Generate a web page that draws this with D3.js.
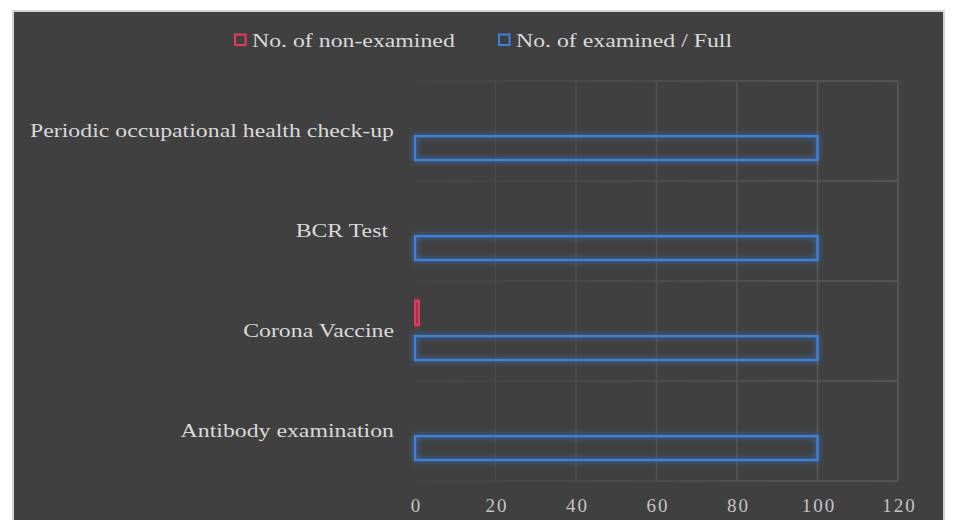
<!DOCTYPE html>
<html>
<head>
<meta charset="utf-8">
<script src="https://cdn.jsdelivr.net/npm/d3@7"></script>
<style>
  body { margin: 0; background: #fff; }
  svg text { white-space: pre; }
</style>
</head>
<body>
<svg id="chart" width="956" height="520"></svg>
<script>
// data
var categories = ["Periodic occupational health check-up", "BCR Test ", "Corona Vaccine", "Antibody examination"];
var seriesNames = ["No. of non-examined", "No. of examined / Full"];
var nonExamined = [0, 0, 1, 0];
var examined = [100, 100, 100, 100];
var xTicks = [0, 20, 40, 60, 80, 100, 120];
var seriesColors = ["#e8385c", "#3d82e0"];

var svg = d3.select("#chart");
var labelColor = "#d9d9d9";
var serif = "'Liberation Serif', 'Times New Roman', serif";
var stretch = "scale(1.22,1)";   // the source text is drawn a bit wide

// frame
svg.append("rect")
   .attr("x", 13).attr("y", 11)
   .attr("width", 931).attr("height", 520)
   .attr("fill", "#404040")
   .attr("stroke", "#d4d4d4")
   .attr("stroke-width", 2);

var defs = svg.append("defs");
var glow = defs.append("filter").attr("id", "glow")
               .attr("x", "-20%").attr("y", "-60%").attr("width", "140%").attr("height", "220%");
glow.append("feGaussianBlur").attr("in", "SourceGraphic").attr("stdDeviation", 3).attr("result", "blur");
var merge = glow.append("feMerge");
merge.append("feMergeNode").attr("in", "blur");
merge.append("feMergeNode").attr("in", "SourceGraphic");

var grad = defs.append("linearGradient").attr("id", "hfade")
               .attr("gradientUnits", "userSpaceOnUse")
               .attr("x1", 415).attr("x2", 898).attr("y1", 0).attr("y2", 0);
grad.append("stop").attr("offset", "0%").attr("stop-color", "#454545");
grad.append("stop").attr("offset", "100%").attr("stop-color", "#5a5a5a");

var x = d3.scaleLinear().domain([0, 120]).range([415, 898]);
var y = d3.scaleBand().domain(categories).range([81, 481]).padding(0);
var ySub = d3.scaleBand().domain([0, 1]).range([20, 79]).paddingInner(0.32);

// gridlines
var gridShade = d3.scaleLinear().domain([0, 120]).range(["#474747", "#5a5a5a"]);
svg.append("g").selectAll("line")
   .data(xTicks.slice(1))
   .enter().append("line")
   .attr("x1", function(d) { return x(d); })
   .attr("x2", function(d) { return x(d); })
   .attr("y1", y.range()[0])
   .attr("y2", y.range()[1])
   .attr("stroke", function(d) { return gridShade(d); })
   .attr("stroke-width", 1.5);

var hLines = [y.range()[0]].concat(categories.map(function(c) { return y(c) + y.bandwidth(); }));
svg.append("g").selectAll("line")
   .data(hLines)
   .enter().append("line")
   .attr("x1", x(0)).attr("x2", x(120))
   .attr("y1", function(d) { return d; })
   .attr("y2", function(d) { return d; })
   .attr("stroke", "url(#hfade)")
   .attr("stroke-width", 1.5);

// x axis labels
var xAxis = svg.append("g")
   .attr("transform", "translate(1,505)")
   .call(d3.axisBottom(x).tickValues(xTicks).tickSize(0).tickPadding(0));
xAxis.select(".domain").remove();
xAxis.selectAll("text")
   .attr("fill", "#c4c4c4")
   .attr("dy", "0.35em")
   .style("font-family", serif)
   .style("font-size", "19px")
   .style("letter-spacing", "2px");

// category labels
var yAxis = svg.append("g")
   .attr("transform", "translate(394,0)")
   .call(d3.axisLeft(y).tickSize(0).tickPadding(0));
yAxis.select(".domain").remove();
yAxis.selectAll("text")
   .attr("fill", labelColor)
   .attr("transform", stretch)
   .style("font-family", serif)
   .style("font-size", "19.5px");

// bars
var series = [nonExamined, examined];
series.forEach(function(vals, si) {
  svg.append("g")
     .attr("filter", "url(#glow)")
     .selectAll("rect")
     .data(vals.map(function(v, i) { return { cat: categories[i], value: v }; })
               .filter(function(d) { return d.value > 0; }))
     .enter().append("rect")
     .attr("x", x(0))
     .attr("y", function(d) { return y(d.cat) + ySub(si); })
     .attr("width", function(d) { return Math.max(x(d.value) - x(0), 1); })
     .attr("height", ySub.bandwidth())
     .attr("fill", "none")
     .attr("stroke", seriesColors[si])
     .attr("stroke-width", 2.2);
});

// legend
var legendItems = [
  { name: seriesNames[0], color: seriesColors[0], x: 235 },
  { name: seriesNames[1], color: seriesColors[1], x: 499 }
];
var legend = svg.append("g");
legendItems.forEach(function(d) {
  legend.append("rect")
        .attr("x", d.x).attr("y", 34.5)
        .attr("width", 10.5).attr("height", 10.5)
        .attr("fill", "none")
        .attr("stroke", d.color)
        .attr("stroke-width", 2);
  legend.append("g")
        .attr("transform", "translate(" + (d.x + 17) + ",40)")
        .append("text")
        .attr("transform", stretch)
        .attr("dy", "0.35em")
        .attr("fill", labelColor)
        .style("font-family", serif)
        .style("font-size", "19.5px")
        .text(d.name);
});
</script>
</body>
</html>
